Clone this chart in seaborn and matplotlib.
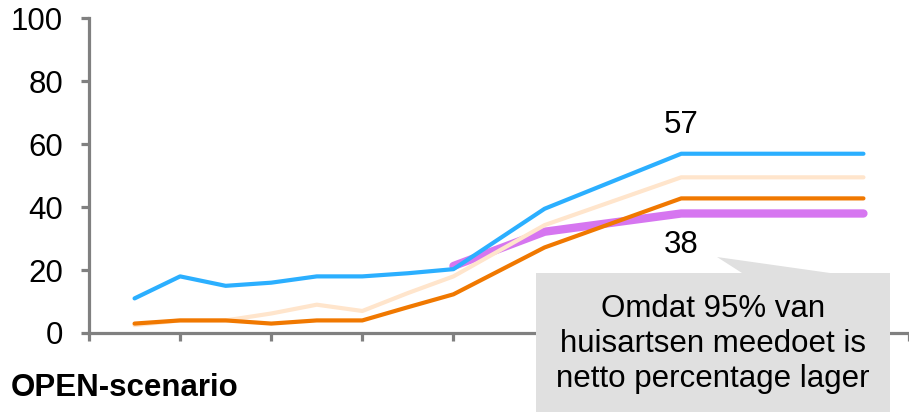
"""
OPEN-scenario line chart with callout
"""

import numpy as np
import pandas as pd
import matplotlib
matplotlib.use("Agg")
import matplotlib.pyplot as plt
from matplotlib.patches import Polygon
import seaborn as sns

# data (x = category index, gaps are connected)
x_main = [0, 1, 2, 3, 4, 5, 6, 7, 9, 12, 16]
blue_values = [11, 18, 15, 16, 18, 18, 19, 20.3, 39.5, 57, 57]
peach_values = [2.5, 4, 4, 6.2, 9, 7, 12.7, 18, 34.3, 49.5, 49.5]
orange_values = [3, 4, 4, 3, 4, 4, 8.2, 12.3, 27.2, 42.8, 42.8]
x_purple = [7, 9, 12, 16]
purple_values = [21.3, 32.2, 38, 38]

label_top = "57"
label_bottom = "38"
callout_text = "Omdat 95% van\nhuisartsen meedoet is\nnetto percentage lager"
scenario_title = "OPEN-scenario"
y_ticks = [0, 20, 40, 60, 80, 100]

W, H = 909, 412
GREY = "#808080"

sns.set_style("white")
plt.rcParams["font.family"] = ["Liberation Sans", "DejaVu Sans"]
plt.rcParams["text.color"] = "black"

fig = plt.figure(figsize=(W / 100, H / 100), dpi=100)
ax = fig.add_axes([89 / W, 1 - 333 / H, 820 / W, (333 - 18.5) / H])

series = [
    ("purple", x_purple, purple_values, "#D676F0", 6.0),
    ("peach", x_main, peach_values, "#FFE5CC", 3.0),
    ("orange", x_main, orange_values, "#F07800", 3.0),
    ("blue", x_main, blue_values, "#2BAFFF", 3.0),
]
for name, xs, ys, color, lw in series:
    df = pd.DataFrame({"x": xs, "y": ys})
    sns.lineplot(data=df, x="x", y="y", ax=ax, color=color, linewidth=lw,
                 solid_capstyle="round", solid_joinstyle="round")

ax.set_xlim(-1, 17)
ax.set_ylim(0, 100)
ax.set_xticks(np.arange(-1, 18, 2))
ax.set_xticklabels([])
ax.set_yticks(y_ticks)
ax.set_xlabel("")
ax.set_ylabel("")

for side in ["top", "right"]:
    ax.spines[side].set_visible(False)
for side in ["left", "bottom"]:
    ax.spines[side].set_color(GREY)
    ax.spines[side].set_linewidth(2.3)
ax.tick_params(axis="both", direction="out", length=5.8, width=2.3,
               color=GREY, labelsize=22.5, labelcolor="black")
ax.tick_params(axis="y", pad=13)
ax.tick_params(axis="x", bottom=True)
ax.tick_params(axis="y", left=True)

# end-value labels
ax.text(12, blue_values[-1] + 9, label_top, ha="center", va="center",
        fontsize=22.5, color="black")
ax.text(12, purple_values[-1] - 10, label_bottom, ha="center", va="center",
        fontsize=22.5, color="black")

# callout box with pointer (figure pixel coords)
pts = [(536, 273), (742, 273), (717, 257), (830, 273), (890, 273), (890, 415), (536, 415)]
poly = Polygon([(px / W, 1 - py / H) for px, py in pts], closed=True,
               transform=fig.transFigure, facecolor="#E0E0E0", edgecolor="none",
               zorder=5)
fig.add_artist(poly)
fig.text(713 / W, 1 - 344 / H, callout_text, ha="center", va="center",
         fontsize=22.5, linespacing=1.22, zorder=6, color="black")

fig.text(11 / W, 1 - 388 / H, scenario_title, ha="left", va="center",
         fontsize=22.5, fontweight="bold", color="black")

fig.savefig("out.png", dpi=100)
